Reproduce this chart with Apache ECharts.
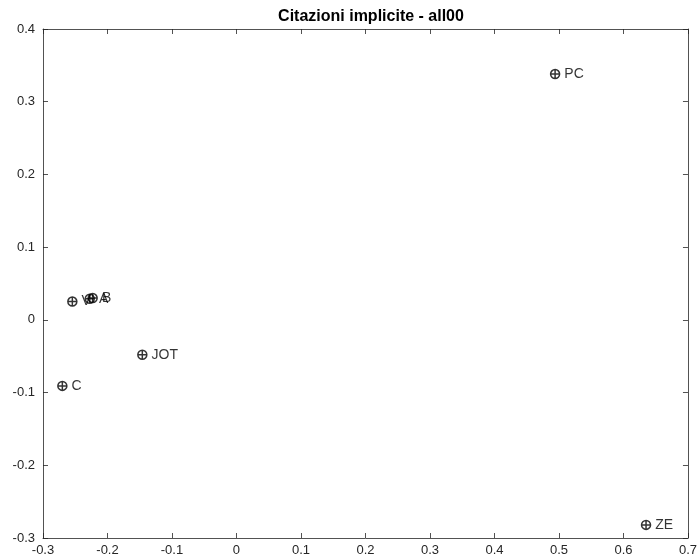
<!DOCTYPE html>
<html><head><meta charset="utf-8">
<script src="https://cdn.jsdelivr.net/npm/echarts@6/dist/echarts.min.js"></script>
<style>html,body{margin:0;padding:0;background:#fff}#c{width:700px;height:560px}</style>
</head><body><div id="c"></div>
<script>
const names = ['PC','ZE','JOT','C','V','A','B'];
const xs = [0.494, 0.635, -0.146, -0.27, -0.2545, -0.2275, -0.223];
const ys = [0.338, -0.282, -0.048, -0.0908, 0.0252, 0.029, 0.030];
const xTicks = [-0.3,-0.2,-0.1,0,0.1,0.2,0.3,0.4,0.5,0.6,0.7];
const yTicks = [-0.3,-0.2,-0.1,0,0.1,0.2,0.3,0.4];

const font = 'Liberation Sans, Helvetica, Arial, sans-serif';
const data = names.map((n,i)=>({name:n, value:[xs[i], ys[i]]}));
const fmt = v => { const r = Math.round(v*10)/10; return r===0 ? '0' : String(r); };
const tickCommon = {show:true, inside:true, length:5, lineStyle:{color:'#262626', width:0.8}};
const lineCommon = {show:true, onZero:false, lineStyle:{color:'#262626', width:0.8}};
const chart = echarts.init(document.getElementById('c'), null, {renderer:'canvas'});
chart.setOption({
  animation:false,
  title:{text:'Citazioni implicite - all00', left:366, textAlign:'center', top:4,
    textStyle:{fontFamily:font, fontSize:16, fontWeight:'bold', color:'#000'}},
  grid:{left:43, right:8, top:29, bottom:22},
  xAxis:[
    {type:'value', min:xTicks[0], max:xTicks[xTicks.length-1], interval:0.1, position:'bottom',
     axisLine:lineCommon, axisTick:tickCommon, splitLine:{show:false},
     axisLabel:{fontFamily:font, fontSize:13, color:'#262626', margin:6, formatter:fmt}},
    {type:'value', min:xTicks[0], max:xTicks[xTicks.length-1], interval:0.1, position:'top',
     axisLine:lineCommon, axisTick:tickCommon, splitLine:{show:false}, axisLabel:{show:false}}
  ],
  yAxis:[
    {type:'value', min:yTicks[0], max:yTicks[yTicks.length-1], interval:0.1, position:'left',
     axisLine:lineCommon, axisTick:tickCommon, splitLine:{show:false},
     axisLabel:{fontFamily:font, fontSize:13, color:'#262626', margin:8, formatter:fmt}},
    {type:'value', min:yTicks[0], max:yTicks[yTicks.length-1], interval:0.1, position:'right',
     axisLine:lineCommon, axisTick:tickCommon, splitLine:{show:false}, axisLabel:{show:false}}
  ],
  series:[{
    type:'scatter', xAxisIndex:0, yAxisIndex:0, data:data,
    symbol:'path://M0,-5A5,5 0 1,1 0,5A5,5 0 1,1 0,-5ZM-5,0L5,0M0,-5L0,5',
    symbolSize:9,
    itemStyle:{color:'rgba(0,0,0,0)', borderColor:'#000', borderWidth:1.5},
    label:{show:true, position:'right', distance:4, formatter:'{b}',
      fontFamily:font, fontSize:14, color:'#000'}
  }]
});
</script></body></html>
